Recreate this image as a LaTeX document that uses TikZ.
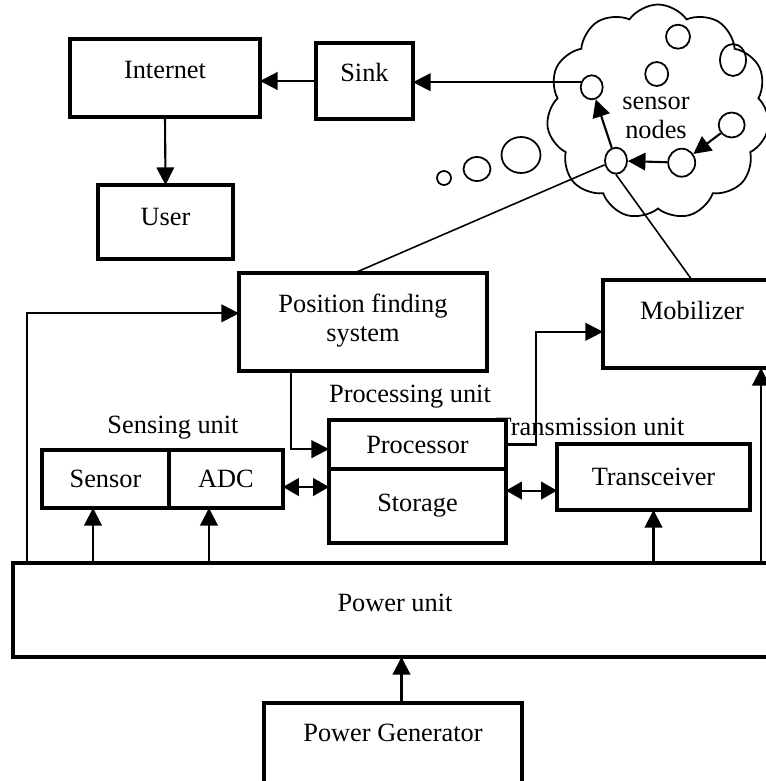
\documentclass[tikz,border=0pt]{standalone}
\usepackage{fontspec}
\setmainfont{Liberation Serif}
\usetikzlibrary{positioning,arrows.meta,shapes.geometric,shapes.symbols}
\tikzset{
  blk/.style={rectangle, draw=black, line width=1.8pt, fill=white, outer sep=0pt, inner sep=0pt, font=\fontsize{15}{18}\selectfont},
  lbl/.style={inner sep=0pt, font=\fontsize{15}{16.5}\selectfont},
  sn/.style={ellipse, draw=black, line width=1pt, inner sep=0pt},
  ln/.style={draw=black, line width=1.2pt},
  thinln/.style={draw=black, line width=0.9pt},
  ar/.style={ln, -{Triangle[length=10pt,width=10pt]}},
  dar/.style={ln, {Triangle[length=9pt,width=10pt]}-{Triangle[length=9pt,width=10pt]}},
  cldshape/.style={cloud, draw=black, line width=1pt, cloud puffs=11, cloud puff arc=110, aspect=1}
}

\begin{document}
\begin{tikzpicture}[x=0.02cm, y=-0.02cm]
  \useasboundingbox (0,0) rectangle (766,781);
  \clip (0,0) rectangle (766,781);

  % internet side
  \node[blk, minimum width=3.8cm, minimum height=1.56cm] (inet) at (165,78) {};
  \node[lbl, below=0.44cm of inet.north] (tinet) {Internet};
  \node[blk, minimum width=1.94cm, minimum height=1.52cm] (sink) at (364.5,81) {};
  \node[lbl, below=0.4cm of sink.north] (tsink) {Sink};
  \node[blk, minimum width=2.7cm, minimum height=1.48cm] (user) at (165.5,222) {};
  \node[lbl, below=0.46cm of user.north] (tuser) {User};

  % cloud of sensor nodes
  \node[cldshape, minimum width=4.46cm, minimum height=4.3cm] (cloud) at (658,112) {};
  \node[sn, minimum width=0.44cm, minimum height=0.48cm] (nA) at (591.7,87.3) {};
  \node[sn, minimum width=0.46cm, minimum height=0.48cm] (nE) at (656.7,74) {};
  \node[sn, minimum width=0.48cm, minimum height=0.48cm] (nF) at (678,36.7) {};
  \node[sn, minimum width=0.52cm, minimum height=0.64cm] (nG) at (733,60) {};
  \node[sn, minimum width=0.44cm, minimum height=0.52cm] (nB) at (616,160.7) {};
  \node[sn, minimum width=0.54cm, minimum height=0.56cm] (nC) at (681.7,162.7) {};
  \node[sn, minimum width=0.52cm, minimum height=0.5cm] (nD) at (731.7,125) {};
  \node[lbl, align=center] (tsn) at (656,118) {sensor\\nodes};
  % thought bubbles
  \node[sn, minimum width=0.28cm, minimum height=0.28cm] (b1) at (444,178) {};
  \node[sn, minimum width=0.54cm, minimum height=0.48cm] (b2) at (477,169) {};
  \node[sn, minimum width=0.78cm, minimum height=0.72cm] (b3) at (521,155) {};

  \draw[ar] (nB) -- (nA);
  \draw[ar] (nC) -- (nB);
  \draw[ar] (nD) -- (nC);
  \draw[ar] (nA.155) -- (nA.155 -| sink.east);
  \draw[ar] (sink.west) -- (sink.west -| inet.east);
  \draw[ar] (inet.south) -- (user.north);

  % position finding and mobilizer
  \node[blk, minimum width=4.96cm, minimum height=1.96cm] (pos) at (363,322) {};
  \node[lbl, align=center, below=0.42cm of pos.north] (tpos) {Position finding\\system};
  \node[blk, minimum width=3.56cm, minimum height=1.76cm] (mob) at (692,324) {};
  \node[lbl, below=0.42cm of mob.north] (tmob) {Mobilizer};
  \draw[thinln] (nB.200) -- (pos.100);
  \draw[thinln] (nB.south) -- (mob.north);

  % units
  \node[lbl] (tsens) at (173,428) {Sensing unit};
  \node[lbl] (tproc) at (410,397) {Processing unit};
  \node[lbl] (ttrx) at (590,427) {Transmission unit};
  \node[blk, minimum width=2.54cm, minimum height=1.16cm] (sens) at (105.5,479) {Sensor};
  \node[blk, minimum width=2.28cm, minimum height=1.16cm, right=0pt of sens] (adc) {ADC};
  \node[blk, minimum width=3.54cm, minimum height=0.98cm] (proc) at (417.5,444.5) {Processor};
  \node[blk, minimum width=3.54cm, minimum height=1.48cm, below=0pt of proc] (stor) {Storage};
  \node[blk, minimum width=3.86cm, minimum height=1.32cm] (trx) at (653.5,477) {Transceiver};

  % power
  \node[blk, minimum width=15.28cm, minimum height=1.88cm] (pwr) at (395,610) {};
  \node[lbl, below=0.62cm of pwr.north] (tpwr) {Power unit};
  \node[blk, minimum width=5.16cm, minimum height=2cm] (pgen) at (393,753) {};
  \node[lbl, below=0.42cm of pgen.north] (tpgen) {Power Generator};

  \coordinate (uS) at ([xshift=-0.25cm]sens.south);
  \coordinate (uA) at ([xshift=-0.34cm]adc.south);
  \coordinate (uM) at ([xshift=1.38cm]mob.south);
  \draw[ar] ([xshift=0.28cm]pwr.north west) |- (pos.176);
  \draw[ar] (uS |- pwr.north) -- (uS);
  \draw[ar] (uA |- pwr.north) -- (uA);
  \draw[ar] (trx.south |- pwr.north) -- (trx.south);
  \draw[ar] (uM |- pwr.north) -- (uM);
  \draw[ar] ([xshift=0.17cm]pgen.north) -- ([xshift=0.17cm]pgen.north |- pwr.south);
  \draw[ar] ([xshift=-1.44cm]pos.south) |- (proc.183);
  \draw[ar] (proc.east) -- ++(30,0) |- (mob.185);
  \draw[dar] (adc.352) -- (adc.352 -| stor.west);
  \draw[dar] (trx.188 -| stor.east) -- (trx.188);
\end{tikzpicture}
\end{document}
